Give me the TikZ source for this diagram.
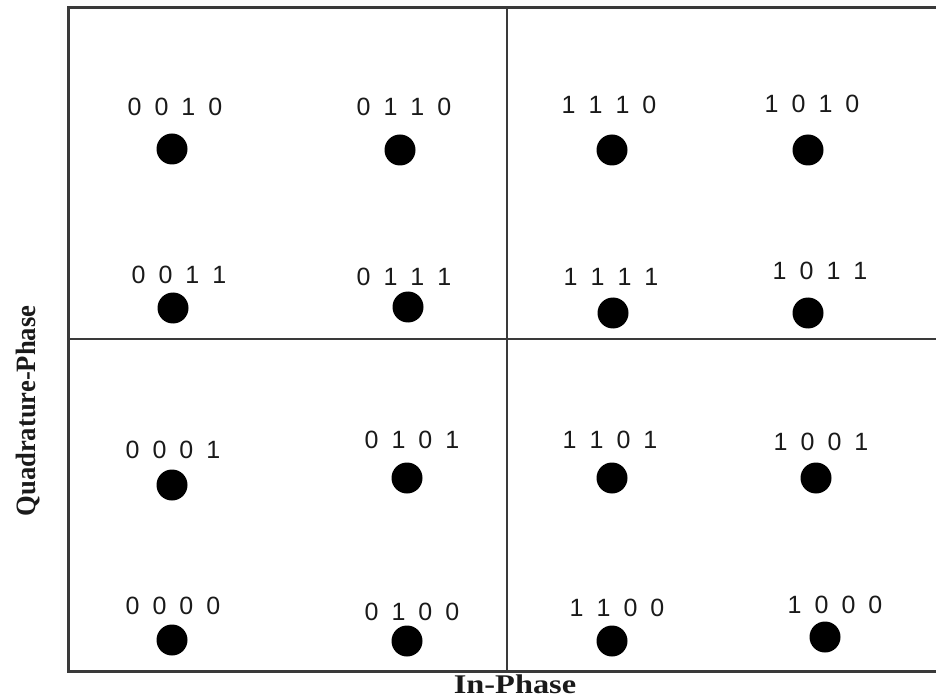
\documentclass[tikz,border=0pt]{standalone}
\usepackage{fontspec}
\setmainfont{Liberation Serif}
\newfontfamily\digitfont{Liberation Sans}
\usepackage{tikz}
\usetikzlibrary{positioning}
\definecolor{qFrame}{HTML}{3A3A3A}
\definecolor{qInk}{HTML}{1A1A1A}
\newcommand{\bits}[4]{#1\hspace{.52em}#2\hspace{.52em}#3\hspace{.52em}#4}

\begin{document}
\begin{tikzpicture}[x=1pt, y=-1pt,
  dot/.style={circle, fill=black, inner sep=0pt, minimum size=31pt},
  bitlabel/.style={font=\digitfont\fontsize{25}{25}\selectfont, text=qInk, inner sep=0pt},
  axislabel/.style={font=\bfseries\fontsize{27}{27}\selectfont, text=qInk, inner sep=0pt}]
  \useasboundingbox (0,0) rectangle (936,700);
  % frame, open on the right
  \draw[qFrame, line width=2.2pt] (936,7.5) -- (68.5,7.5) -- (68.5,671.5) -- (936,671.5);
  \draw[qFrame, line width=1.8pt] (507,7.5) -- (507,671.5);
  \draw[qFrame, line width=1.8pt] (68.5,339) -- (936,339);
  % symbols: bits / dot x / dot y / label x / label y
  \foreach \b/\dx/\dy/\lx/\ly in {
      0010/172/149/175/107, 0110/400/150/404/107, 1110/612/150/609/105, 1010/808/150/812/104,
      0011/173/308/179/275, 0111/408/307/404/277, 1111/613/313/611/277, 1011/808/313/820/271,
      0001/172/485/173/450, 0101/407/478/412/440, 1101/612/478/610/440, 1001/816/478/821/442,
      0000/172/640/173/606, 0100/407/641/412/612, 1100/612/641/617/608, 1000/825/637/835/605}{
    \node[dot] (d\b) at (\dx,\dy) {};
    \node[bitlabel] (l\b) at (\lx,\ly) {\expandafter\bits\b};
  }
  \node[axislabel, xscale=1.2] (iaxis) at (515,684) {In-Phase};
  \node[axislabel, font=\bfseries\fontsize{28}{28}\selectfont, rotate=90, xscale=0.95] (qaxis) at (28,411) {Quadrature-Phase};
\end{tikzpicture}
\end{document}
